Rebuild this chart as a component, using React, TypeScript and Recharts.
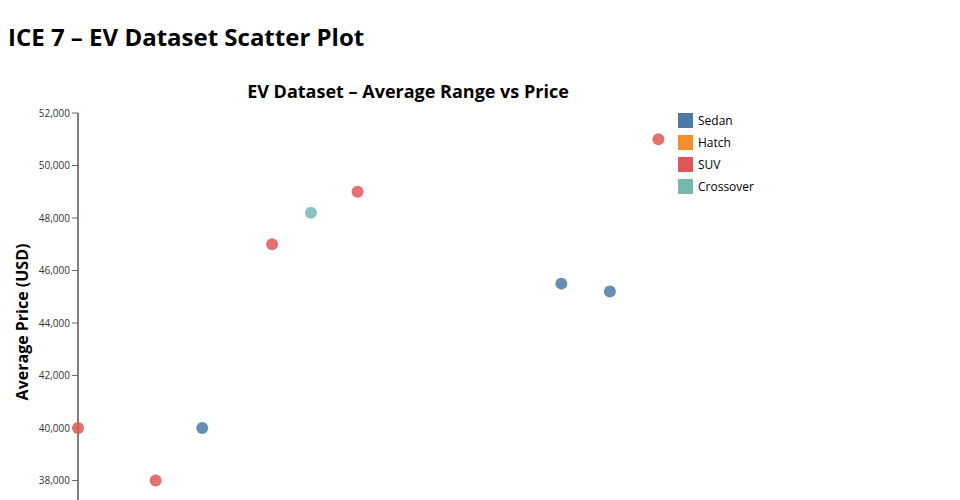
import React from "react";
import { ScatterChart, Scatter, XAxis, YAxis } from "recharts";

const categories = ["Sedan", "Hatch", "SUV", "Crossover"];
const colors = ["#4e79a7", "#f28e2b", "#e15759", "#76b7b2"];

const sedanRange = [182, 274.5, 287];
const sedanPrice = [40000, 45500, 45200];
const hatchRange: number[] = [];
const hatchPrice: number[] = [];
const suvRange = [150, 170, 200, 222, 299.5];
const suvPrice = [40000, 38000, 47000, 49000, 51000];
const crossoverRange = [210];
const crossoverPrice = [48200];

const yTicks = [38000, 40000, 42000, 44000, 46000, 48000, 50000, 52000];

const toPoints = (xs: number[], ys: number[]) => xs.map((x, i) => ({ range: x, price: ys[i] }));

const series = [
  toPoints(sedanRange, sedanPrice),
  toPoints(hatchRange, hatchPrice),
  toPoints(suvRange, suvPrice),
  toPoints(crossoverRange, crossoverPrice),
];

const FONT = "'Open Sans', sans-serif";

const Dot = (props: any) => {
  const { cx, cy, fill } = props;
  if (cx == null || cy == null) return null;
  return <circle cx={cx} cy={cy} r={6} fill={fill} fillOpacity={0.85} />;
};

export default function App() {
  return (
    <div style={{ position: "absolute", left: 0, top: 0, width: 960, height: 500, background: "#fff", overflow: "hidden" }}>
      <ScatterChart
        width={960}
        height={620}
        margin={{ top: 113, right: 222, bottom: 87, left: 18 }}
      >
        <XAxis type="number" dataKey="range" domain={[150, 320]} hide />
        <YAxis
          type="number"
          dataKey="price"
          domain={[36000, 52000]}
          ticks={yTicks}
          width={60}
          stroke="#000"
          axisLine={{ stroke: "#000", strokeOpacity: 1 }}
          tickLine={{ stroke: "#666" }}
          tickSize={6}
          tick={{ fontSize: 10, fill: "#333", fontFamily: FONT }}
          tickFormatter={(v: number) => v.toLocaleString("en-US")}
        />
        {series.map((d, i) => (
          <Scatter
            key={categories[i]}
            name={categories[i]}
            data={d}
            fill={colors[i]}
            shape={<Dot />}
            isAnimationActive={false}
          />
        ))}
      </ScatterChart>
      <svg width={960} height={500} style={{ position: "absolute", left: 0, top: 0, pointerEvents: "none" }}>
        <text x={8} y={46} fontFamily={FONT} fontWeight={700} fontSize={24} fill="#000">
          ICE 7 – EV Dataset Scatter Plot
        </text>
        <text x={408} y={98} textAnchor="middle" fontFamily={FONT} fontWeight={700} fontSize={18} fill="#000">
          EV Dataset – Average Range vs Price
        </text>
        <text
          x={22}
          y={322}
          transform="rotate(-90, 22, 322)"
          textAnchor="middle"
          dominantBaseline="central"
          fontFamily={FONT}
          fontWeight={700}
          fontSize={16}
          fill="#000"
        >
          Average Price (USD)
        </text>
        {categories.map((c, i) => (
          <g key={c}>
            <rect x={678} y={113 + i * 22} width={15} height={15} fill={colors[i]} />
            <text x={698} y={125 + i * 22} fontFamily={FONT} fontSize={12} fill="#000">
              {c}
            </text>
          </g>
        ))}
      </svg>
    </div>
  );
}
